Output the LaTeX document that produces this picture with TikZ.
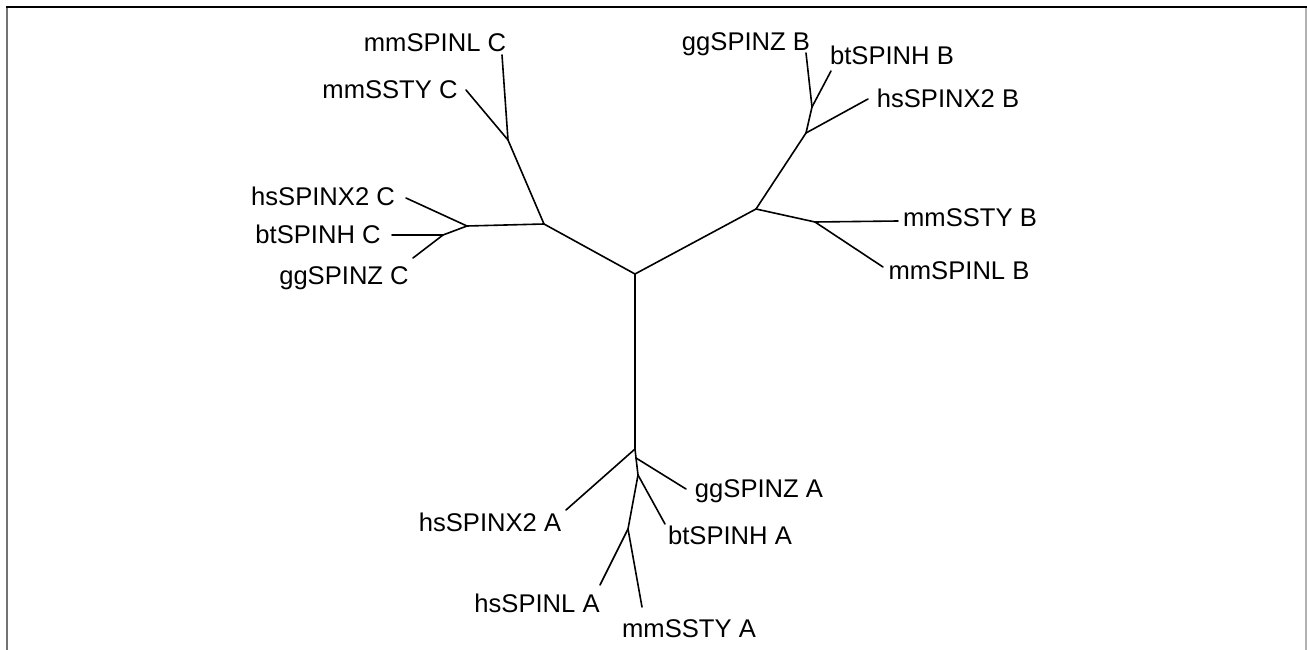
\documentclass[tikz,border=0pt]{standalone}
\usepackage{fontspec}
\setmainfont{Liberation Sans}
\begin{document}
\begin{tikzpicture}[x=1pt,y=-1pt,
  branch/.style={line width=1.6pt,line cap=round},
  leaf/.style={inner sep=0pt,text height=18.3pt,text depth=0pt,anchor=center,
    font=\fontsize{25.6}{30}\selectfont}]
\useasboundingbox (0,0) rectangle (1307,650);
\fill[white] (0,0) rectangle (1307,650);
% frame
\draw[line width=2pt,gray!90!black] (7,7) -- (7,650);
\draw[line width=2pt,gray!60] (1306,7) -- (1306,650);
\draw[line width=2pt,black] (6,7) -- (1307,7);
% internal nodes
\coordinate (O) at (635,274);
\coordinate (C0) at (544,224);
\coordinate (C1) at (508,140);
\coordinate (C2) at (467,226);
\coordinate (C3) at (443,235);
\coordinate (B0) at (756,209);
\coordinate (B1) at (806,133);
\coordinate (B2) at (812,107);
\coordinate (B3) at (815,222);
\coordinate (A0) at (635,449);
\coordinate (A1) at (636,458);
\coordinate (A2) at (638,475);
\coordinate (A3) at (628,529);
% leaf tips
\coordinate (tC1) at (502,55);
\coordinate (tC2) at (466,90);
\coordinate (tC3) at (406,198);
\coordinate (tC4) at (392,235);
\coordinate (tC5) at (413,258);
\coordinate (tB1) at (806,53);
\coordinate (tB2) at (831,71);
\coordinate (tB3) at (868,99);
\coordinate (tB4) at (898,221);
\coordinate (tB5) at (883,267);
\coordinate (tA1) at (566,510);
\coordinate (tA2) at (686,489);
\coordinate (tA3) at (665,524);
\coordinate (tA4) at (600,585);
\coordinate (tA5) at (642,607);
% labels
\node[leaf] (lC1) at (435,42) {mmSPINL C};
\node[leaf] (lC2) at (390,89) {mmSSTY C};
\node[leaf] (lC3) at (323,196) {hsSPINX2 C};
\node[leaf] (lC4) at (318,234) {btSPINH C};
\node[leaf] (lC5) at (344,275) {ggSPINZ C};
\node[leaf] (lB1) at (746,41) {ggSPINZ B};
\node[leaf] (lB2) at (892,55) {btSPINH B};
\node[leaf] (lB3) at (948,98) {hsSPINX2 B};
\node[leaf] (lB4) at (970,217) {mmSSTY B};
\node[leaf] (lB5) at (959,270) {mmSPINL B};
\node[leaf] (lA1) at (490,522) {hsSPINX2 A};
\node[leaf] (lA2) at (759,488) {ggSPINZ A};
\node[leaf] (lA3) at (730,535) {btSPINH A};
\node[leaf] (lA4) at (537,603) {hsSPINL A};
\node[leaf] (lA5) at (689,628) {mmSSTY A};
% branches
\draw[branch] (O) -- (C0);
\draw[branch] (O) -- (B0);
\draw[branch] (O) -- (A0);
\draw[branch] (C0) -- (C1);
\draw[branch] (C0) -- (C2);
\draw[branch] (C1) -- (tC1);
\draw[branch] (C1) -- (tC2);
\draw[branch] (C2) -- (tC3);
\draw[branch] (C2) -- (C3);
\draw[branch] (C3) -- (tC4);
\draw[branch] (C3) -- (tC5);
\draw[branch] (B0) -- (B1);
\draw[branch] (B0) -- (B3);
\draw[branch] (B1) -- (B2);
\draw[branch] (B1) -- (tB3);
\draw[branch] (B2) -- (tB1);
\draw[branch] (B2) -- (tB2);
\draw[branch] (B3) -- (tB4);
\draw[branch] (B3) -- (tB5);
\draw[branch] (A0) -- (tA1);
\draw[branch] (A0) -- (A1);
\draw[branch] (A1) -- (tA2);
\draw[branch] (A1) -- (A2);
\draw[branch] (A2) -- (tA3);
\draw[branch] (A2) -- (A3);
\draw[branch] (A3) -- (tA4);
\draw[branch] (A3) -- (tA5);
\end{tikzpicture}
\end{document}
